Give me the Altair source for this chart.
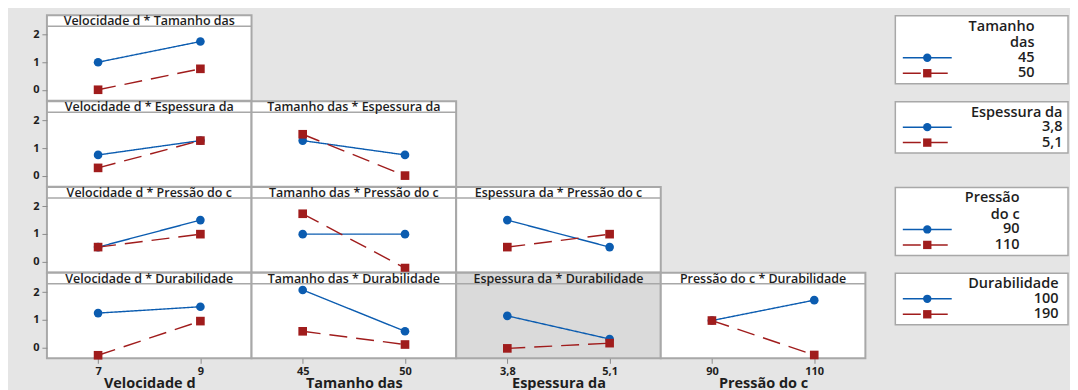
import altair as alt
import pandas as pd

# ---------------- data ----------------
factors = ["Velocidade d", "Tamanho das", "Espessura da", "Pressão do c", "Durabilidade"]

vel_levels = ["7", "9"]
tam_levels = ["45", "50"]
esp_levels = ["3,8", "5,1"]
pre_levels = ["90", "110"]
dur_levels = ["100", "190"]

# means: (x factor) * (trace factor); _low = first trace level (blue), _high = second (red)
vel_tam_low = [1.0, 1.75]
vel_tam_high = [0.0, 0.76]

vel_esp_low = [0.75, 1.27]
vel_esp_high = [0.28, 1.27]
tam_esp_low = [1.27, 0.75]
tam_esp_high = [1.5, 0.0]

vel_pre_low = [0.52, 1.5]
vel_pre_high = [0.52, 0.99]
tam_pre_low = [0.99, 0.99]
tam_pre_high = [1.73, -0.24]
esp_pre_low = [1.5, 0.52]
esp_pre_high = [0.52, 0.99]

vel_dur_low = [1.24, 1.47]
vel_dur_high = [-0.29, 0.95]
tam_dur_low = [2.08, 0.58]
tam_dur_high = [0.58, 0.1]
esp_dur_low = [1.14, 0.3]
esp_dur_high = [-0.04, 0.15]
pre_dur_low = [0.97, 1.71]
pre_dur_high = [0.97, -0.28]

legend_title_lines = {
    "Tamanho das": ["Tamanho", "das"],
    "Espessura da": ["Espessura da"],
    "Pressão do c": ["Pressão", "do c"],
    "Durabilidade": ["Durabilidade"],
}

LEVELS = {
    "Velocidade d": vel_levels,
    "Tamanho das": tam_levels,
    "Espessura da": esp_levels,
    "Pressão do c": pre_levels,
    "Durabilidade": dur_levels,
}

MEANS = {
    (0, 1): (vel_tam_low, vel_tam_high),
    (0, 2): (vel_esp_low, vel_esp_high),
    (1, 2): (tam_esp_low, tam_esp_high),
    (0, 3): (vel_pre_low, vel_pre_high),
    (1, 3): (tam_pre_low, tam_pre_high),
    (2, 3): (esp_pre_low, esp_pre_high),
    (0, 4): (vel_dur_low, vel_dur_high),
    (1, 4): (tam_dur_low, tam_dur_high),
    (2, 4): (esp_dur_low, esp_dur_high),
    (3, 4): (pre_dur_low, pre_dur_high),
}

# ---------------- style / layout ----------------
FONT = "Open Sans"
BLUE = "#0b5cb0"
RED = "#a01c1c"
BORDER = "#a8a8a8"
BG = "#e5e5e5"
HILITE = "#dadada"
TXT = "#1e1e1e"
W = 205
H = 85.6
STRIP = 11
Y_DOMAIN = [-0.40, 2.70]
LEG_W = 204
DASH = [18, 9]
LABEL_RIGHT = {"Tamanho das": 169.5, "Espessura da": 197.5, "Pressão do c": 154.5, "Durabilidade": 193.5}

one = pd.DataFrame({"k": [0]})


def panel(ci, ri):
    xf = factors[ci]
    tf = factors[ri]
    xl = LEVELS[xf]
    tl = LEVELS[tf]
    low, high = MEANS[(ci, ri)]
    df = pd.DataFrame({
        "x": list(xl) + list(xl),
        "trace": [tl[0]] * 2 + [tl[1]] * 2,
        "mean": list(low) + list(high),
    })
    last_row = ri == 4
    first_col = ci == 0
    if last_row:
        xaxis = alt.Axis(title=xf, labelAngle=0, domain=False, ticks=True, tickSize=5,
                         tickColor="#8c8c8c", labelFontSize=11, labelFontWeight="bold",
                         labelColor=TXT, labelPadding=2, titleFontSize=14.5,
                         titleFontWeight="bold", titleColor=TXT, titlePadding=0)
    else:
        xaxis = None
    if first_col:
        yaxis = alt.Axis(values=[0, 1, 2], title=None, grid=False, domain=False,
                         tickSize=5, tickColor="#8c8c8c", labelFontSize=11,
                         labelFontWeight="bold", labelColor=TXT, labelPadding=3,
                         minExtent=30, maxExtent=30)
    else:
        yaxis = None
    enc_x = alt.X("x:N", sort=xl, scale=alt.Scale(type="point", padding=0.5), axis=xaxis)
    enc_y = alt.Y("mean:Q", scale=alt.Scale(domain=Y_DOMAIN, nice=False, zero=False), axis=yaxis)
    color = alt.Color("trace:N", scale=alt.Scale(domain=tl, range=[BLUE, RED]), legend=None)
    dash = alt.StrokeDash("trace:N", scale=alt.Scale(domain=tl, range=[[1, 0], DASH]), legend=None)
    shape = alt.Shape("trace:N", scale=alt.Scale(domain=tl, range=["circle", "square"]), legend=None)

    base = alt.Chart(df)
    lines = base.mark_line(strokeWidth=1.4).encode(x=enc_x, y=enc_y, color=color, strokeDash=dash,
                                                   detail="trace:N")
    pts = base.mark_point(filled=True, size=75, opacity=1).encode(x=enc_x, y=enc_y, color=color, shape=shape)

    strip_line = alt.Chart(one).mark_rule(color=BORDER, strokeWidth=1.5).encode(
        x=alt.value(0), x2=alt.value(W), y=alt.value(STRIP))
    title = alt.Chart(pd.DataFrame({"t": [f"{xf} * {tf}"]})).mark_text(
        font=FONT, fontSize=12.5, fontWeight=600, color=TXT, baseline="middle", align="center"
    ).encode(text="t:N", x=alt.value(W / 2), y=alt.value(STRIP / 2 + 0.5))

    fill = HILITE if (ci, ri) == (2, 4) else "white"
    return alt.layer(strip_line, title, lines, pts).properties(
        width=W, height=H,
        view=alt.ViewBackground(fill=fill, stroke=BORDER, strokeWidth=2),
    )


def placeholder():
    return alt.Chart(one).mark_point(opacity=0).encode(
        x=alt.value(100), y=alt.value(40)
    ).properties(width=W, height=H,
                 view=alt.ViewBackground(fill="transparent", stroke="transparent"))


def legend_chart(tf):
    lines_txt = legend_title_lines[tf]
    tl = LEVELS[tf]
    title_y = [11.5 + 16.5 * i for i in range(len(lines_txt))]
    y0 = title_y[-1] + 14.5
    item_y = [y0, y0 + 15.5]
    bottom = item_y[-1] + 10.5
    xr = LABEL_RIGHT[tf]
    box = alt.Chart(one).mark_rect(fill="white", stroke=BORDER, strokeWidth=1.5).encode(
        x=alt.value(30), x2=alt.value(LEG_W - 1), y=alt.value(0.5), y2=alt.value(bottom))
    tdf = pd.DataFrame({"t": lines_txt, "yy": title_y})
    titles = alt.Chart(tdf).mark_text(
        font=FONT, fontSize=14.5, fontWeight=600, color=TXT, align="right", baseline="middle"
    ).encode(text="t:N", x=alt.value(xr), y=alt.Y("yy:Q", scale=None, axis=None))

    idf = pd.DataFrame({
        "lev": list(tl),
        "yy": item_y,
        "x1": [37.5, 37.5],
        "x2": [86.5, 86.5],
        "xm": [62, 62],
    })
    color = alt.Color("lev:N", scale=alt.Scale(domain=tl, range=[BLUE, RED]), legend=None)
    dash = alt.StrokeDash("lev:N", scale=alt.Scale(domain=tl, range=[[1, 0], [16, 6]]), legend=None)
    shape = alt.Shape("lev:N", scale=alt.Scale(domain=tl, range=["circle", "square"]), legend=None)
    ib = alt.Chart(idf)
    rules = ib.mark_rule(strokeWidth=1.5).encode(
        x=alt.X("x1:Q", scale=None, axis=None), x2="x2:Q",
        y=alt.Y("yy:Q", scale=None, axis=None), color=color, strokeDash=dash)
    marks = ib.mark_point(filled=True, size=70, opacity=1).encode(
        x=alt.X("xm:Q", scale=None, axis=None), y=alt.Y("yy:Q", scale=None, axis=None),
        color=color, shape=shape)
    labels = ib.mark_text(font=FONT, fontSize=14.5, fontWeight=600, color=TXT,
                          align="right", baseline="middle").encode(
        x=alt.value(xr), y=alt.Y("yy:Q", scale=None, axis=None),
        text="lev:N")
    return alt.layer(box, titles, rules, marks, labels).properties(
        width=LEG_W, height=H,
        view=alt.ViewBackground(fill="transparent", stroke="transparent"),
    )


cells = []
for ri in range(1, 5):
    for ci in range(4):
        if ci < ri:
            cells.append(panel(ci, ri))
        else:
            cells.append(placeholder())
    cells.append(legend_chart(factors[ri]))

chart = alt.concat(*cells, columns=5, spacing=0, bounds="flush").properties(
    background=BG,
    padding={"left": 8, "top": 6, "right": 0, "bottom": 0},
).configure_axis(labelFont=FONT, titleFont=FONT).configure_view(stroke=BORDER)

chart.save("out.html", embed_options={"renderer": "svg", "actions": False})
